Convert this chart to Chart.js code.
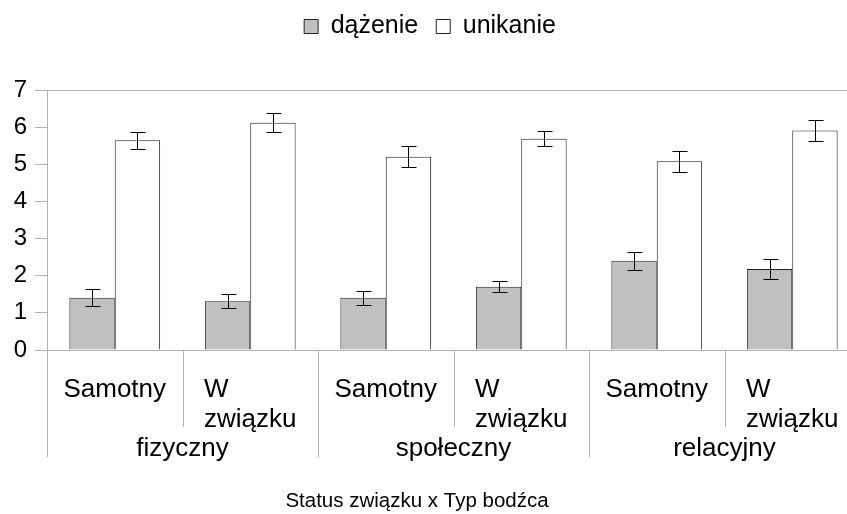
<!DOCTYPE html>
<html>
<head>
<meta charset="utf-8">
<script src="https://cdn.jsdelivr.net/npm/chart.js@4/dist/chart.umd.min.js"></script>
<style>
html, body { margin: 0; padding: 0; background: #fff; overflow: hidden; }
#wrap { width: 847px; height: 514px; overflow: hidden; }
</style>
</head>
<body>
<div id="wrap"><canvas id="chart" width="860" height="514"></canvas></div>
<script>
// data
const stimulusTypes = ['fizyczny', 'społeczny', 'relacyjny'];
const statuses = ['Samotny', 'W związku'];
const approach = [1.41, 1.31, 1.41, 1.70, 2.40, 2.18];
const approachErr = [0.22, 0.19, 0.19, 0.15, 0.25, 0.26];
const avoidance = [5.65, 6.12, 5.20, 5.69, 5.08, 5.91];
const avoidanceErr = [0.23, 0.26, 0.28, 0.21, 0.28, 0.27];
const yTicks = [0, 1, 2, 3, 4, 5, 6, 7];
const xTitle = 'Status związku x Typ bodźca';

const categories = [];
stimulusTypes.forEach(() => statuses.forEach(s => categories.push(s)));

const FONT = '"Liberation Sans", Arial, sans-serif';
Chart.defaults.font.family = FONT;
Chart.defaults.color = '#000';

// extra gap under the legend
const legendGap = {
  id: 'legendGap',
  beforeInit(chart) {
    const fit = chart.legend.fit;
    chart.legend.fit = function () {
      fit.call(this);
      this.height += 41;
    };
  }
};

const errorBars = {
  id: 'errorBars',
  afterDatasetsDraw(chart) {
    const ctx = chart.ctx;
    const y = chart.scales.y;
    ctx.save();
    ctx.strokeStyle = '#000';
    ctx.lineWidth = 1;
    chart.data.datasets.forEach((ds, di) => {
      chart.getDatasetMeta(di).data.forEach((bar, i) => {
        const top = Math.round(y.getPixelForValue(ds.data[i] + ds.errors[i])) + 0.5;
        const bot = Math.round(y.getPixelForValue(ds.data[i] - ds.errors[i])) + 0.5;
        const x = Math.round(bar.x) + 0.5;
        ctx.beginPath();
        ctx.moveTo(x, top); ctx.lineTo(x, bot);
        ctx.moveTo(x - 7, top); ctx.lineTo(x + 8, top);
        ctx.moveTo(x - 7, bot); ctx.lineTo(x + 8, bot);
        ctx.stroke();
      });
    });
    ctx.restore();
  }
};

// two-level category axis: status labels, then stimulus type, then axis title
const groupAxis = {
  id: 'groupAxis',
  afterDraw(chart) {
    const ctx = chart.ctx;
    const x = chart.scales.x;
    const top = x.top;
    ctx.save();
    ctx.strokeStyle = '#b3b3b3';
    ctx.lineWidth = 1;
    for (let i = 0; i <= categories.length; i++) {
      const px = Math.round(x.getPixelForValue(i - 0.5)) + 0.5;
      const len = i % 2 === 0 ? 107 : 77;
      ctx.beginPath();
      ctx.moveTo(px, top);
      ctx.lineTo(px, top + len);
      ctx.stroke();
    }
    ctx.fillStyle = '#000';
    ctx.font = '26px ' + FONT;
    ctx.textBaseline = 'alphabetic';
    ctx.textAlign = 'left';
    categories.forEach((lab, i) => {
      const lines = lab.split(' ');
      const w = Math.max(...lines.map(l => ctx.measureText(l).width));
      const cx = x.getPixelForValue(i);
      lines.forEach((l, k) => ctx.fillText(l, cx - w / 2, top + 47 + k * 30));
    });
    ctx.textAlign = 'center';
    stimulusTypes.forEach((g, k) => {
      const cx = (x.getPixelForValue(2 * k) + x.getPixelForValue(2 * k + 1)) / 2;
      ctx.fillText(g, cx, top + 106);
    });
    // axis title, centred on the visible picture
    ctx.font = '20.5px ' + FONT;
    ctx.fillText(xTitle, 417, top + 157);
    ctx.restore();
  }
};

new Chart(document.getElementById('chart'), {
  type: 'bar',
  data: {
    labels: categories,
    datasets: [
      {label: 'dążenie', data: approach, errors: approachErr, backgroundColor: '#c0c0c0', borderColor: '#222', borderWidth: 1},
      {label: 'unikanie', data: avoidance, errors: avoidanceErr, backgroundColor: '#fff', borderColor: '#222', borderWidth: 1}
    ]
  },
  options: {
    responsive: false,
    animation: false,
    categoryPercentage: 0.67,
    barPercentage: 1.0,
    layout: {padding: {left: 0, right: 0, top: -4, bottom: 0}},
    plugins: {
      legend: {
        position: 'top',
        labels: {boxWidth: 14, boxHeight: 14, padding: 18, font: {size: 25}, color: '#000'}
      },
      title: {display: false},
      tooltip: {enabled: false}
    },
    scales: {
      x: {
        grid: {drawOnChartArea: false, drawTicks: false},
        border: {color: '#b3b3b3'},
        ticks: {display: false},
        afterFit(scale) { scale.height = 164; }
      },
      y: {
        min: 0,
        max: 7,
        afterBuildTicks(scale) { scale.ticks = yTicks.map(v => ({value: v})); },
        grid: {
          color: c => c.tick && c.tick.value === 7 ? '#b3b3b3' : 'rgba(0,0,0,0)',
          tickColor: '#b3b3b3',
          tickLength: 12
        },
        border: {color: '#b3b3b3'},
        ticks: {font: {size: 24}, color: '#000', padding: 8},
        afterFit(scale) { scale.width = 47; }
      }
    }
  },
  plugins: [legendGap, errorBars, groupAxis]
});
</script>
</body>
</html>
